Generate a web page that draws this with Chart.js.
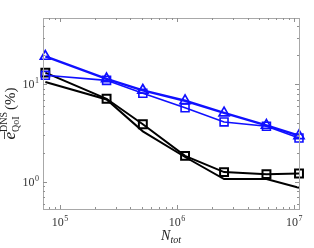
<!DOCTYPE html>
<html>
<head>
<meta charset="utf-8">
<script src="https://cdn.jsdelivr.net/npm/chart.js@4.4.0/dist/chart.umd.min.js"></script>
<style>
html,body{margin:0;padding:0;background:#fff;}
#wrap{width:314px;height:248px;}
</style>
</head>
<body>
<div id="wrap"><canvas id="c" width="314" height="248"></canvas></div>
<script>
// ---- data ----
const nTot      = [7.5e4, 2.5e5, 5.1e5, 1.17e6, 2.52e6, 5.8e6, 1.1e7];
const blueTri   = [19.4, 11.4, 8.7, 6.8, 5.1, 3.8, 2.98];
const blueSq    = [12.4, 11.0, 8.1, 5.75, 4.12, 3.72, 2.82];
const blackSq   = [13.2, 7.12, 3.9, 1.85, 1.26, 1.2, 1.22];
const blackLine = [10.6, 7.0, 3.3, 1.8, 1.07, 1.07, 0.87];
const xTickExps = [5, 6, 7];
const yTickExps = [0, 1];
const xLabelMain = 'N', xLabelSub = 'tot';
const yLabelMain = 'e', yLabelSub = 'QoI', yLabelSup = 'DNS', yLabelTail = '(%)';

const SERIF = '"Liberation Serif", "DejaVu Serif", serif';

function pts(ys){ return nTot.map((x,i)=>({x:x, y:ys[i]})); }

function drawPow(ctx, exp, x, y, align){
  ctx.font = '12px ' + SERIF;
  const wb = ctx.measureText('10').width;
  ctx.font = '8px ' + SERIF;
  const we = ctx.measureText(String(exp)).width;
  const tw = wb + we + 0.5;
  let x0 = align === 'center' ? x - tw/2 : x - tw;
  ctx.textAlign = 'left';
  ctx.textBaseline = 'alphabetic';
  ctx.fillStyle = '#333';
  ctx.font = '12px ' + SERIF;
  ctx.fillText('10', x0, y);
  ctx.font = '8px ' + SERIF;
  ctx.fillText(String(exp), x0 + wb + 0.5, y - 5);
}

const framePlugin = {
  id: 'frame',
  afterDraw(chart){
    const ctx = chart.ctx, a = chart.chartArea;
    const xs = chart.scales.x, ys = chart.scales.y;
    ctx.save();
    ctx.strokeStyle = '#a8a8a8';
    ctx.lineWidth = 1;
    ctx.strokeRect(Math.round(a.left)+0.5, Math.round(a.top)+0.5, Math.round(a.right-a.left), Math.round(a.bottom-a.top));
    ctx.strokeStyle = '#909090';
    function ticksFor(min, max){
      const out = [];
      for (let k = Math.floor(Math.log10(min)); k <= Math.ceil(Math.log10(max)); k++){
        for (let m = 1; m <= 9; m++){
          const v = m * Math.pow(10, k);
          if (v >= min && v <= max) out.push({v, major: m === 1});
        }
      }
      return out;
    }
    ctx.beginPath();
    ticksFor(xs.min, xs.max).forEach(t => {
      const px = Math.round(xs.getPixelForValue(t.v)) + 0.5;
      const L = t.major ? 4 : 2;
      ctx.moveTo(px, a.bottom); ctx.lineTo(px, a.bottom - L);
      ctx.moveTo(px, a.top); ctx.lineTo(px, a.top + L);
    });
    ticksFor(ys.min, ys.max).forEach(t => {
      const py = Math.round(ys.getPixelForValue(t.v)) + 0.5;
      const L = t.major ? 4 : 2;
      ctx.moveTo(a.left, py); ctx.lineTo(a.left + L, py);
      ctx.moveTo(a.right, py); ctx.lineTo(a.right - L, py);
    });
    ctx.stroke();
    xTickExps.forEach(e => {
      const px = xs.getPixelForValue(Math.pow(10, e));
      drawPow(ctx, e, px, a.bottom + 17, 'center');
    });
    yTickExps.forEach(e => {
      const py = ys.getPixelForValue(Math.pow(10, e));
      drawPow(ctx, e, a.left - 4, py + 4, 'right');
    });
    // x label
    ctx.fillStyle = '#222';
    ctx.textAlign = 'left';
    ctx.textBaseline = 'alphabetic';
    ctx.font = 'italic 14px ' + SERIF;
    const wN = ctx.measureText(xLabelMain).width;
    ctx.font = 'italic 10px ' + SERIF;
    const wS = ctx.measureText(xLabelSub).width;
    const cx = (a.left + a.right)/2;
    const x0 = cx - (wN + wS)/2;
    ctx.font = 'italic 14px ' + SERIF;
    ctx.fillText(xLabelMain, x0, 240);
    ctx.font = 'italic 10px ' + SERIF;
    ctx.fillText(xLabelSub, x0 + wN, 243);
    // y label (rotated)
    ctx.save();
    ctx.translate(15, (a.top + a.bottom)/2);
    ctx.rotate(-Math.PI/2);
    ctx.font = 'italic 17px ' + SERIF;
    const we = ctx.measureText(yLabelMain).width;
    ctx.font = '10px ' + SERIF;
    const wsub = ctx.measureText(yLabelSub).width;
    const wsup = ctx.measureText(yLabelSup).width;
    const wmid = Math.max(wsub, wsup);
    ctx.font = '15px ' + SERIF;
    const wt = ctx.measureText(yLabelTail).width;
    const total = we + wmid + 2 + wt;
    let lx = -total/2;
    ctx.font = 'italic 17px ' + SERIF;
    ctx.fillText(yLabelMain, lx, 0);
    ctx.strokeStyle = '#222';
    ctx.lineWidth = 0.8;
    ctx.beginPath();
    ctx.moveTo(lx + 0.5, -10.5); ctx.lineTo(lx + we + 0.5, -10.5);
    ctx.stroke();
    lx += we;
    ctx.font = '10px ' + SERIF;
    ctx.fillText(yLabelSub, lx, 3.5);
    ctx.fillText(yLabelSup, lx, -8.5);
    lx += wmid + 2;
    ctx.font = '15px ' + SERIF;
    ctx.fillText(yLabelTail, lx, 0);
    ctx.restore();
    ctx.restore();
  }
};

const common = {
  fill: false, tension: 0, clip: false,
  pointBackgroundColor: 'rgba(0,0,0,0)'
};

new Chart(document.getElementById('c'), {
  type: 'line',
  data: {
    datasets: [
      Object.assign({}, common, {
        label: 'blue squares', data: pts(blueSq),
        borderColor: '#1010ff', borderWidth: 1.6,
        pointStyle: 'rect', pointRadius: 5.6, pointBorderColor: '#1010ff', pointBorderWidth: 1.6
      }),
      Object.assign({}, common, {
        label: 'blue triangles', data: pts(blueTri),
        borderColor: '#1010ff', borderWidth: 2.4,
        pointStyle: 'triangle', pointRadius: 5.8, pointBorderColor: '#1010ff', pointBorderWidth: 1.7
      }),
      Object.assign({}, common, {
        label: 'black line', data: pts(blackLine),
        borderColor: '#000', borderWidth: 2,
        pointRadius: 0
      }),
      Object.assign({}, common, {
        label: 'black squares', data: pts(blackSq),
        borderColor: '#000', borderWidth: 2,
        pointStyle: 'rect', pointRadius: 5.6, pointBorderColor: '#000', pointBorderWidth: 2
      })
    ]
  },
  options: {
    responsive: false,
    animation: false,
    devicePixelRatio: 1,
    layout: { padding: { top: 18, right: 15, left: 0, bottom: 0 } },
    plugins: { legend: { display: false }, tooltip: { enabled: false }, title: { display: false } },
    scales: {
      x: {
        type: 'logarithmic', min: 7.16e4, max: 1.1e7,
        grid: { display: false }, border: { display: false },
        ticks: { display: false },
        afterFit(s){ s.height = 39; }
      },
      y: {
        type: 'logarithmic', min: 0.527, max: 48,
        grid: { display: false }, border: { display: false },
        ticks: { display: false },
        afterFit(s){ s.width = 43; }
      }
    }
  },
  plugins: [framePlugin]
});
</script>
</body>
</html>
